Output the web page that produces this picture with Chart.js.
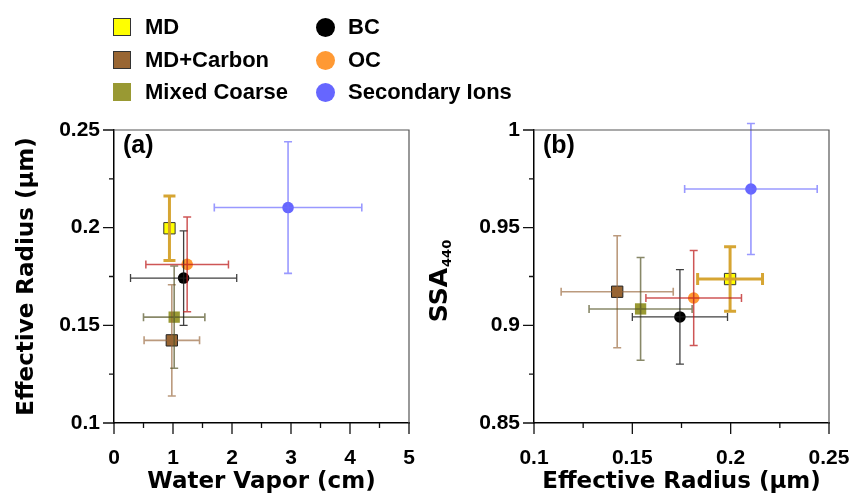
<!DOCTYPE html>
<html>
<head>
<meta charset="utf-8">
<script src="https://cdn.jsdelivr.net/npm/chart.js@4.4.1/dist/chart.umd.min.js"></script>
<style>
body { margin: 0; background: #fff; }
#page { position: relative; width: 853px; height: 500px; overflow: hidden; font-family: "Liberation Sans", Arial, sans-serif; }
.wrap { position: absolute; top: 0; height: 500px; }
#wrapA { left: 0; width: 426px; }
#wrapB { left: 420px; width: 433px; }
.sw { position: absolute; width: 18px; height: 18px; box-sizing: border-box; }
.lt { position: absolute; font-weight: bold; font-size: 22px; line-height: 22px; white-space: nowrap; color: #000; }
</style>
</head>
<body>
<div id="page">
  <div class="wrap" id="wrapA"><canvas id="chartA"></canvas></div>
  <div class="wrap" id="wrapB"><canvas id="chartB"></canvas></div>
</div>
<script>
var groups = ['MD', 'MD+Carbon', 'Mixed Coarse', 'BC', 'OC', 'Secondary Ions'];

// panel (a): water vapor (cm) vs effective radius (um)
var wvMean = [0.94, 0.98, 1.02, 1.18, 1.24, 2.95];
var wvErr = [0, 0.47, 0.52, 0.90, 0.70, 1.25];
var reffMean = [0.1997, 0.1423, 0.1542, 0.1742, 0.1812, 0.2103];
var reffErr = [0.0165, 0.0285, 0.0262, 0.0242, 0.0243, 0.0337];

// panel (b): effective radius vs SSA 440
var ssaMean = [0.9237, 0.9172, 0.9084, 0.9043, 0.9140, 0.9698];
var ssaErr = [0.0165, 0.0287, 0.0263, 0.0242, 0.0243, 0.0335];

var ticksWv = [0, 5, 1];
var ticksReff = [0.1, 0.25, 0.05];
var ticksSsa = [0.85, 1, 0.05];

var markerStyle = [
    {shape: 'rect', fill: '#ffff00', line: '#333333', bw: 1, r: 8},
    {shape: 'rect', fill: '#996633', line: '#222222', bw: 1, r: 8},
    {shape: 'rect', fill: '#999933', line: '#999933', bw: 0, r: 8},
    {shape: 'circle', fill: '#000000', line: '#000000', bw: 0, r: 5.8},
    {shape: 'circle', fill: '#ff9933', line: '#ff9933', bw: 0, r: 5.8},
    {shape: 'circle', fill: '#6666ff', line: '#6666ff', bw: 0, r: 5.8}
];
var errStyle = [
    {color: 'rgba(212,160,40,0.95)', width: 3, cap: 6},
    {color: 'rgba(150,100,55,0.65)', width: 1.6, cap: 4},
    {color: 'rgba(85,85,40,0.7)', width: 1.6, cap: 4},
    {color: 'rgba(30,30,30,0.85)', width: 1.3, cap: 4},
    {color: 'rgba(190,30,30,0.75)', width: 1.5, cap: 4},
    {color: 'rgba(110,110,255,0.7)', width: 1.6, cap: 4}
];

var tickFont = 'Liberation Sans';
var titleFont = 'DejaVu Sans';

function buildDatasets(xs, ex, ys, ey) {
    var sets = [];
    for (var i = 0; i < groups.length; i++) {
        var m = markerStyle[i];
        sets.push({
            label: groups[i],
            data: [{x: xs[i], y: ys[i], ex: ex[i], ey: ey[i]}],
            pointStyle: m.shape,
            pointRadius: m.r,
            pointHoverRadius: m.r,
            backgroundColor: m.fill,
            borderColor: m.line,
            borderWidth: m.bw,
            showLine: false,
            clip: false,
            err: errStyle[i]
        });
    }
    return sets;
}

// error bars drawn over the markers, like the original
var errorBars = {
    id: 'errorBars',
    afterDatasetsDraw: function(chart) {
        var ctx = chart.ctx;
        var sx = chart.scales.x, sy = chart.scales.y;
        chart.data.datasets.forEach(function(ds) {
            var st = ds.err;
            ds.data.forEach(function(p) {
                var px = sx.getPixelForValue(p.x), py = sy.getPixelForValue(p.y);
                ctx.save();
                ctx.strokeStyle = st.color;
                ctx.lineWidth = st.width;
                ctx.beginPath();
                if (p.ex) {
                    var x0 = sx.getPixelForValue(p.x - p.ex), x1 = sx.getPixelForValue(p.x + p.ex);
                    ctx.moveTo(x0, py); ctx.lineTo(x1, py);
                    ctx.moveTo(x0, py - st.cap); ctx.lineTo(x0, py + st.cap);
                    ctx.moveTo(x1, py - st.cap); ctx.lineTo(x1, py + st.cap);
                }
                if (p.ey) {
                    var y0 = sy.getPixelForValue(p.y - p.ey), y1 = sy.getPixelForValue(p.y + p.ey);
                    ctx.moveTo(px, y0); ctx.lineTo(px, y1);
                    ctx.moveTo(px - st.cap, y0); ctx.lineTo(px + st.cap, y0);
                    ctx.moveTo(px - st.cap, y1); ctx.lineTo(px + st.cap, y1);
                }
                ctx.stroke();
                ctx.restore();
            });
        });
    }
};

// box, outward major/minor ticks, panel letter, optional subscripted y title
var frame = {
    id: 'frame',
    afterDraw: function(chart, args, opts) {
        var a = chart.chartArea, ctx = chart.ctx;
        ctx.save();
        ctx.strokeStyle = '#555';
        ctx.lineWidth = 1.2;
        ctx.beginPath();
        ctx.moveTo(a.left, a.top); ctx.lineTo(a.right, a.top); ctx.lineTo(a.right, a.bottom);
        ctx.stroke();

        ctx.strokeStyle = '#111';
        ctx.lineWidth = 1.3;
        ctx.beginPath();
        var sx = chart.scales.x, sy = chart.scales.y;
        for (var i = 0; i < sx.ticks.length; i++) {
            var v = sx.ticks[i].value, p = sx.getPixelForValue(v);
            ctx.moveTo(p, a.bottom); ctx.lineTo(p, a.bottom + 11);
            if (i < sx.ticks.length - 1) {
                var pm = sx.getPixelForValue((v + sx.ticks[i + 1].value) / 2);
                ctx.moveTo(pm, a.bottom); ctx.lineTo(pm, a.bottom + 5);
            }
        }
        for (var j = 0; j < sy.ticks.length; j++) {
            var w = sy.ticks[j].value, q = sy.getPixelForValue(w);
            ctx.moveTo(a.left, q); ctx.lineTo(a.left - 11, q);
            if (j < sy.ticks.length - 1) {
                var qm = sy.getPixelForValue((w + sy.ticks[j + 1].value) / 2);
                ctx.moveTo(a.left, qm); ctx.lineTo(a.left - 5, qm);
            }
        }
        ctx.stroke();

        ctx.fillStyle = '#000';
        ctx.font = 'bold 25px "Liberation Sans"';
        ctx.textBaseline = 'alphabetic';
        ctx.fillText(opts.label, a.left + 9, a.top + 23);

        if (opts.subTitle) {
            ctx.translate(opts.subX, (a.top + a.bottom) / 2 + 5);
            ctx.rotate(-Math.PI / 2);
            ctx.font = 'bold 25px "' + titleFont + '"';
            var w1 = ctx.measureText(opts.mainTitle).width;
            ctx.font = 'bold 13px "' + titleFont + '"';
            var w2 = ctx.measureText(opts.subTitle).width;
            var start = -(w1 + w2) / 2;
            ctx.textBaseline = 'middle';
            ctx.font = 'bold 25px "' + titleFont + '"';
            ctx.fillText(opts.mainTitle, start, 0);
            ctx.font = 'bold 13px "' + titleFont + '"';
            ctx.fillText(opts.subTitle, start + w1 + 1, 8);
        }
        ctx.restore();
    }
};

function shortLabel(value) {
    return String(parseFloat(Number(value).toFixed(3)));
}

function axis(range, fontSize, pad, fitW, fitH, title, titlePad) {
    return {
        type: 'linear',
        min: range[0],
        max: range[1],
        grid: {display: false, drawTicks: false},
        border: {display: true, color: '#000', width: 1.5},
        ticks: {
            stepSize: range[2],
            padding: pad,
            autoSkip: false,
            maxRotation: 0,
            color: '#000',
            font: {family: tickFont, weight: 'bold', size: fontSize},
            callback: shortLabel
        },
        title: {
            display: !!title,
            text: title || '',
            color: '#000',
            padding: titlePad,
            font: {family: titleFont, weight: 'bold', size: 23}
        },
        afterFit: function(s) {
            // fixed box sizes so the plot areas land where the original has them
            if (fitW) { s.width = fitW; }
            if (fitH) { s.height = fitH; }
            s.paddingLeft = 0;
            s.paddingRight = 0;
            s.paddingTop = 0;
            s.paddingBottom = 0;
        }
    };
}

function newPanel(id, datasets, xAxis, yAxis, padRight, frameOpts) {
    var ctx = document.getElementById(id).getContext('2d');
    return new Chart(ctx, {
        type: 'scatter',
        data: {datasets: datasets},
        options: {
            responsive: true,
            maintainAspectRatio: false,
            animation: false,
            layout: {padding: {top: 130, right: padRight, bottom: 0, left: 0}},
            plugins: {legend: {display: false}, tooltip: {enabled: false}, frame: frameOpts},
            scales: {x: xAxis, y: yAxis}
        },
        plugins: [errorBars, frame]
    });
}

newPanel('chartA',
    buildDatasets(wvMean, wvErr, reffMean, reffErr),
    axis(ticksWv, 21, 23, 0, 77, 'Water Vapor (cm)', {top: 0, bottom: 4}),
    axis(ticksReff, 21, 14, 114, 0, 'Effective Radius (\u03bcm)', {top: 13, bottom: 0}),
    17,
    {label: '(a)'});

newPanel('chartB',
    buildDatasets(reffMean, reffErr, ssaMean, ssaErr),
    axis(ticksReff, 21, 23, 0, 77, 'Effective Radius (\u03bcm)', {top: 0, bottom: 4}),
    axis(ticksSsa, 21, 14, 114, 0, '', {top: 0, bottom: 0}),
    24,
    {label: '(b)', mainTitle: 'SSA', subTitle: '440', subX: 20});

// legend, two columns of three
var page = document.getElementById('page');
var legCols = [113, 316];
var legRows = [27, 59.5, 91.5];
for (var k = 0; k < groups.length; k++) {
    var col = Math.floor(k / 3), row = k % 3;
    var m = markerStyle[k];
    var sw = document.createElement('div');
    sw.className = 'sw';
    sw.style.left = legCols[col] + 'px';
    sw.style.top = (legRows[row] - 9) + 'px';
    sw.style.background = m.fill;
    if (m.shape === 'circle') {
        sw.style.borderRadius = '50%';
        sw.style.width = '19px';
        sw.style.height = '19px';
    } else if (m.bw) {
        sw.style.border = '1px solid #333';
    }
    page.appendChild(sw);
    var lt = document.createElement('div');
    lt.className = 'lt';
    lt.style.left = (legCols[col] + 32) + 'px';
    lt.style.top = (legRows[row] - 10.7) + 'px';
    lt.textContent = groups[k];
    page.appendChild(lt);
}
</script>
</body>
</html>
